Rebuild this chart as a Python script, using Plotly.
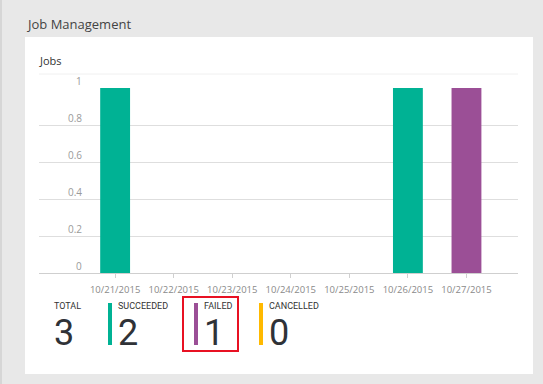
import plotly.graph_objects as go

dates = ["10/21/2015", "10/22/2015", "10/23/2015", "10/24/2015",
         "10/25/2015", "10/26/2015", "10/27/2015"]
succeeded = [1, 0, 0, 0, 0, 1, 0]
failed = [0, 0, 0, 0, 0, 0, 1]
cancelled = [0, 0, 0, 0, 0, 0, 0]
y_ticks = [0, 0.2, 0.4, 0.6, 0.8, 1]
y_tick_labels = ["0", "0.2", "0.4", "0.6", "0.8", "1"]

GREEN = "#00b294"
PURPLE = "#9b4f96"
ORANGE = "#ffb900"
W, H = 543, 384
FONT = "Segoe UI, Open Sans, Noto Sans, sans-serif"
STAT_FONT = "Roboto, Segoe UI, sans-serif"


def px(x):
    return x / W


def py(y):
    return 1 - y / H


fig = go.Figure()
fig.add_trace(go.Bar(x=dates, y=succeeded, name="Succeeded", width=0.51,
                     marker=dict(color=GREEN, line=dict(width=0)), hoverinfo="skip"))
fig.add_trace(go.Bar(x=dates, y=failed, name="Failed", width=0.51,
                     marker=dict(color=PURPLE, line=dict(width=0)), hoverinfo="skip"))

shapes = [
    # card
    dict(type="rect", xref="paper", yref="paper", x0=px(25), x1=px(533),
         y0=py(374), y1=py(37), fillcolor="white", line=dict(width=0), layer="below"),
    # left dark strip
    dict(type="rect", xref="paper", yref="paper", x0=0, x1=px(2),
         y0=0, y1=1, fillcolor="#d6d6d6", line=dict(width=0), layer="below"),
    # top separator
    dict(type="line", xref="paper", yref="paper", x0=px(39), x1=px(518),
         y0=py(74), y1=py(74), line=dict(color="#f0f0f0", width=1)),
    # red highlight box
    dict(type="rect", xref="paper", yref="paper", x0=px(183), x1=px(238),
         y0=py(351), y1=py(297), line=dict(color="#e81123", width=2)),
]

annotations = [
    dict(text="Job Management", xref="paper", yref="paper", x=px(24), y=py(24),
         xanchor="left", yanchor="middle", showarrow=False,
         font=dict(family=FONT, size=13, color="#444444")),
    dict(text="Jobs", xref="paper", yref="paper", x=px(37), y=py(60),
         xanchor="left", yanchor="middle", showarrow=False,
         font=dict(family=FONT, size=11, color="#333333")),
]

for v, lab in zip(y_ticks, y_tick_labels):
    annotations.append(dict(text=lab, xref="paper", yref="y", x=px(84), y=v,
                            xanchor="right", yanchor="bottom", showarrow=False,
                            yshift=-2, font=dict(family=FONT, size=10, color="#9a9a9a")))

stats = [
    ("TOTAL", sum(succeeded) + sum(failed) + sum(cancelled), None, 53),
    ("SUCCEEDED", sum(succeeded), GREEN, 117),
    ("FAILED", sum(failed), PURPLE, 203),
    ("CANCELLED", sum(cancelled), ORANGE, 268),
]
for label, value, color, x in stats:
    annotations.append(dict(text=label, xref="paper", yref="paper", x=px(x), y=py(305.5),
                            xanchor="left", yanchor="middle", showarrow=False, borderpad=0,
                            font=dict(family=STAT_FONT, size=9, color="#333333")))
    annotations.append(dict(text=str(value), xref="paper", yref="paper", x=px(x), y=py(311),
                            xanchor="left", yanchor="top", showarrow=False, borderpad=0,
                            font=dict(family=STAT_FONT, size=36, color="#2f3237")))
    if color:
        shapes.append(dict(type="rect", xref="paper", yref="paper", x0=px(x - 9), x1=px(x - 5),
                           y0=py(345), y1=py(303), fillcolor=color, line=dict(width=0)))

fig.update_layout(
    width=W, height=H,
    margin=dict(l=0, r=0, t=0, b=0),
    paper_bgcolor="#e8e8e8",
    plot_bgcolor="rgba(0,0,0,0)",
    barmode="overlay",
    showlegend=False,
    hovermode=False,
    shapes=shapes,
    annotations=annotations,
    xaxis=dict(domain=[px(39), px(518)], range=[-1.3, 6.88], type="category",
               showgrid=False, zeroline=False, showline=False,
               ticks="outside", ticklen=4, tickcolor="#d0d0d0", ticklabelstandoff=4,
               tickfont=dict(family=FONT, size=9.5, color="#8a8a8a"), fixedrange=True),
    yaxis=dict(domain=[py(273), py(88)], range=[0, 1.0001], tickvals=y_ticks,
               showticklabels=False, showgrid=True, gridcolor="#dedede",
               zeroline=True, zerolinecolor="#cfcfcf", zerolinewidth=1, fixedrange=True),
)

fig.write_html(
    "out.html",
    config={"displayModeBar": False, "staticPlot": True},
    post_script="document.body.style.margin='0';document.body.style.overflow='hidden';"
                "document.body.style.background='#e8e8e8';",
)
